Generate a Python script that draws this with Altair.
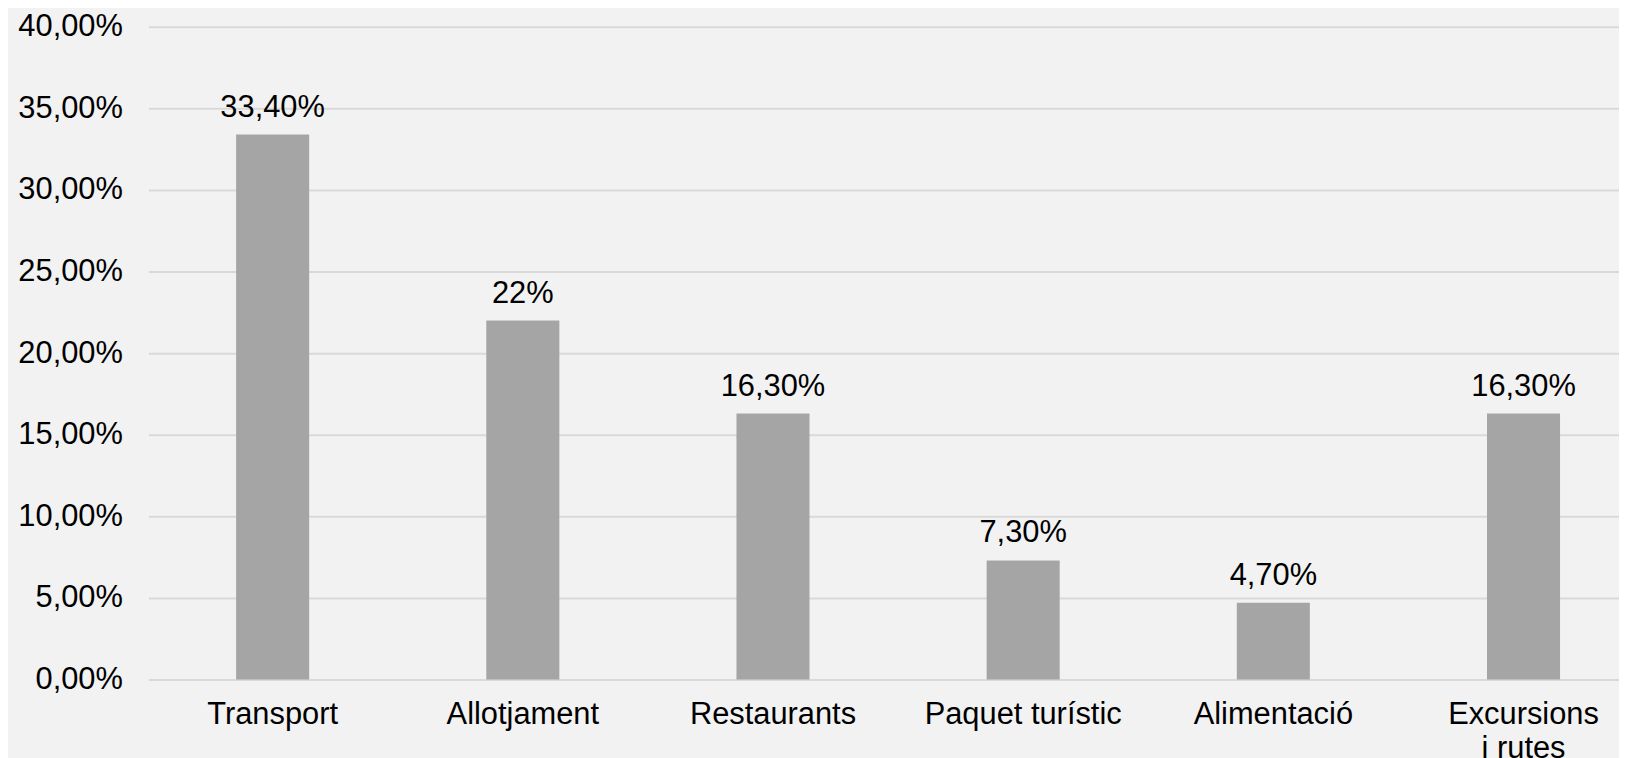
import altair as alt
import pandas as pd

categories = ["Transport", "Allotjament", "Restaurants", "Paquet turístic", "Alimentació", "Excursions i rutes"]
values = [33.4, 22.0, 16.3, 7.3, 4.7, 16.3]
value_labels = ["33,40%", "22%", "16,30%", "7,30%", "4,70%", "16,30%"]
y_ticks = [0, 5, 10, 15, 20, 25, 30, 35, 40]

df = pd.DataFrame({"cat": categories, "val": values, "lab": value_labels})

FONT = "Liberation Sans"
FS = 31

x_enc = alt.X(
    "cat:N",
    sort=categories,
    title=None,
    scale=alt.Scale(range=[0, 1507], paddingInner=0.708, paddingOuter=0.351),
    axis=alt.Axis(
        labelAngle=0,
        domain=False,
        ticks=False,
        labelPadding=20,
        labelFontSize=FS,
        labelFont=FONT,
        labelColor="#000000",
        labelLineHeight=34,
        labelLimit=0,
        labelExpr="datum.label == 'Excursions i rutes' ? ['Excursions', 'i rutes'] : datum.label",
    ),
)

y_enc = alt.Y(
    "val:Q",
    title=None,
    scale=alt.Scale(domain=[0, 40], nice=False, zero=True),
    axis=alt.Axis(
        values=y_ticks,
        domain=False,
        ticks=False,
        labelPadding=26,
        labelFontSize=FS,
        labelFont=FONT,
        labelColor="#000000",
        gridColor="#d9d9d9",
        gridWidth=2,
        labelExpr="replace(format(datum.value, '.2f'), '.', ',') + '%'",
    ),
)

bars = alt.Chart(df).mark_bar(color="#a5a5a5").encode(x=x_enc, y=y_enc)

texts = alt.Chart(df).mark_text(
    font=FONT, fontSize=FS, color="#000000", baseline="alphabetic", dy=-18
).encode(x=alt.X("cat:N", sort=categories), y="val:Q", text="lab:N")

chart = (
    alt.layer(bars, texts)
    .properties(
        width=1478,
        height=656,
        background="#f2f2f2",
        padding={"left": 141, "top": 17, "right": 0, "bottom": 77},
        autosize=alt.AutoSizeParams(type="none"),
    )
    .configure_view(stroke=None)
)

chart.save("out.html", embed_options={"renderer": "svg", "actions": False})
